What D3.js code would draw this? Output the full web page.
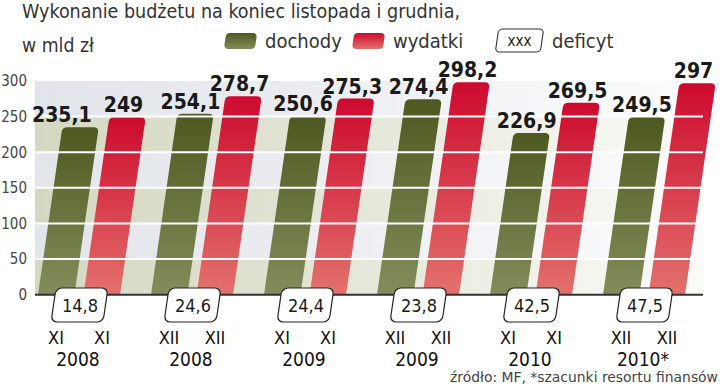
<!DOCTYPE html>
<html>
<head>
<meta charset="utf-8">
<script src="https://cdn.jsdelivr.net/npm/d3@7"></script>
<style>
  body { margin: 0; background: #fff; }
  svg { display: block; }
  text { font-family: "DejaVu Sans Condensed", "DejaVu Sans", sans-serif; }
</style>
</head>
<body>
<div id="chart"></div>
<script>
"use strict";

const months = ["XI", "XII", "XI", "XII", "XI", "XII"];
const years = ["2008", "2008", "2009", "2009", "2010", "2010*"];
const dochody = [235.1, 254.1, 250.6, 274.4, 226.9, 249.5];
const wydatki = [249, 278.7, 275.3, 298.2, 269.5, 297];
const deficyt = [14.8, 24.6, 24.4, 23.8, 42.5, 47.5];
const yTicks = [0, 50, 100, 150, 200, 250, 300];
const series = ["dochody", "wydatki"];

const width = 720, height = 388;
const plot = {left: 35, right: 703, top: 81, bottom: 294.7};
const slant = 0.145;
const skewDeg = -Math.atan(slant) * 180 / Math.PI;
const fmt = (v) => String(v).replace(".", ",");
const fmt1 = (v) => v.toFixed(1).replace(".", ",");

const keys = months.map((m, i) => m + " " + years[i]);

const x = d3.scaleBand()
    .domain(keys)
    .range([23.5, 701.5]);

const xIn = d3.scaleBand()
    .domain(series)
    .range([-42, 40])
    .paddingInner(0.2);

const y = d3.scaleLinear()
    .domain([0, 300])
    .range([plot.bottom, plot.top]);

const svg = d3.select("#chart").append("svg")
    .attr("width", width)
    .attr("height", height);

const defs = svg.append("defs");

function vGrad(id, top, bottom) {
    const g = defs.append("linearGradient")
        .attr("id", id)
        .attr("x1", 0).attr("y1", 0).attr("x2", 0).attr("y2", 1);
    g.append("stop").attr("offset", 0).attr("stop-color", top);
    g.append("stop").attr("offset", 1).attr("stop-color", bottom);
}
vGrad("gGreen", "#4e5920", "#838d5b");
vGrad("gRed", "#cd0a2e", "#e3716c");

const fade = defs.append("linearGradient")
    .attr("id", "fade")
    .attr("gradientUnits", "userSpaceOnUse")
    .attr("x1", plot.left).attr("x2", plot.right).attr("y1", 0).attr("y2", 0);
fade.append("stop").attr("offset", 0).attr("stop-color", "#fff").attr("stop-opacity", 0);
fade.append("stop").attr("offset", 0.35).attr("stop-color", "#fff").attr("stop-opacity", 0.25);
fade.append("stop").attr("offset", 1).attr("stop-color", "#fff").attr("stop-opacity", 0.9);

// background bands
const bands = d3.range(yTicks.length - 1);
svg.append("g").selectAll("rect")
    .data(bands)
    .join("rect")
    .attr("x", plot.left)
    .attr("width", plot.right - plot.left)
    .attr("y", (i) => y(yTicks[i + 1]))
    .attr("height", (i) => y(yTicks[i]) - y(yTicks[i + 1]))
    .attr("fill", (i) => i % 2 === 0 ? "#d5d8c1" : "#e2e5ea");

svg.append("rect")
    .attr("x", plot.left)
    .attr("y", plot.top)
    .attr("width", plot.right - plot.left)
    .attr("height", plot.bottom - plot.top)
    .attr("fill", "url(#fade)");

function skewAt(y0) {
    return "translate(0," + y0 + ") skewX(" + skewDeg + ") translate(0," + (-y0) + ")";
}

function barPath(x0, x1, yt, yb, r) {
    return "M" + x0 + "," + yb +
        "L" + x0 + "," + (yt + r) +
        "Q" + x0 + "," + yt + " " + (x0 + r) + "," + yt +
        "L" + (x1 - r) + "," + yt +
        "Q" + x1 + "," + yt + " " + x1 + "," + (yt + r) +
        "L" + x1 + "," + yb + "Z";
}

const rows = keys.map((k, i) => ({key: k, i, dochody: dochody[i], wydatki: wydatki[i]}));

const bars = svg.append("g").attr("transform", skewAt(plot.bottom));

series.forEach((s) => {
    bars.append("g").selectAll("path")
        .data(rows)
        .join("path")
        .attr("fill", s === "dochody" ? "url(#gGreen)" : "url(#gRed)")
        .attr("d", (d) => {
            const c = x(d.key) + x.bandwidth() / 2 + xIn(s);
            return barPath(c, c + xIn.bandwidth(), y(d[s]), plot.bottom, 5);
        });
});

// grid lines on top of bars
svg.append("g").selectAll("line")
    .data(yTicks.filter((t) => t > 0 && t < 300))
    .join("line")
    .attr("x1", plot.left)
    .attr("x2", plot.right)
    .attr("y1", (d) => y(d))
    .attr("y2", (d) => y(d))
    .attr("stroke", "#fff")
    .attr("stroke-width", 2);

// axis line
svg.append("line")
    .attr("x1", plot.left).attr("x2", plot.right)
    .attr("y1", plot.bottom).attr("y2", plot.bottom)
    .attr("stroke", "#333")
    .attr("stroke-width", 2);

// y axis
const yAxis = svg.append("g")
    .attr("transform", "translate(27,0)")
    .call(d3.axisLeft(y).tickValues(yTicks).tickSize(0).tickPadding(0));
yAxis.select(".domain").remove();
yAxis.selectAll("text")
    .attr("font-family", "DejaVu Sans Condensed")
    .attr("font-size", 15)
    .attr("fill", "#444");

// value labels
const labels = svg.append("g")
    .attr("font-weight", "bold")
    .attr("font-size", 21)
    .attr("fill", "#1a1a1a")
    .attr("text-anchor", "middle");

function topCentre(d, s) {
    const c = x(d.key) + x.bandwidth() / 2 + xIn(s) + xIn.bandwidth() / 2;
    return c + (plot.bottom - y(d[s])) * slant;
}

rows.forEach((d) => {
    const red = labels.append("text")
        .attr("x", topCentre(d, "wydatki") - 4)
        .attr("y", y(d.wydatki) - 5)
        .text(fmt(d.wydatki));
    const green = labels.append("text")
        .attr("x", topCentre(d, "dochody") - 5)
        .attr("y", y(d.dochody) - 5)
        .text(fmt(d.dochody));
    const rw = red.node().getComputedTextLength();
    const gw = green.node().getComputedTextLength();
    const redLeft = +red.attr("x") - rw / 2;
    const greenRight = +green.attr("x") + gw / 2;
    const overlapY = Math.abs(+red.attr("y") - +green.attr("y")) < 16;
    if (overlapY && greenRight > redLeft - 12) {
        green.attr("x", redLeft - 12 - gw / 2);
    }
});

// deficit boxes
const boxes = svg.append("g").attr("transform", skewAt(plot.bottom));
boxes.selectAll("rect")
    .data(rows)
    .join("rect")
    .attr("x", (d) => x(d.key) + x.bandwidth() / 2 - 25)
    .attr("y", 288)
    .attr("width", 52)
    .attr("height", 34)
    .attr("rx", 6)
    .attr("fill", "#fff")
    .attr("stroke", "#222")
    .attr("stroke-width", 1.2);

svg.append("g").selectAll("text")
    .data(rows)
    .join("text")
    .attr("x", (d) => x(d.key) + x.bandwidth() / 2)
    .attr("y", 312)
    .attr("text-anchor", "middle")
    .attr("font-size", 18)
    .attr("fill", "#1a1a1a")
    .text((d) => fmt1(deficyt[d.i]));

// x axis: months and years
const xAxis = svg.append("g")
    .attr("transform", "translate(0," + plot.bottom + ")")
    .call(d3.axisBottom(x).tickSize(0).tickFormat((d, i) => years[i]));
xAxis.select(".domain").remove();
xAxis.selectAll(".tick text")
    .attr("font-family", "DejaVu Sans")
    .attr("font-size", 19)
    .attr("fill", "#111")
    .attr("x", -2)
    .attr("y", 71)
    .attr("dy", 0);

const monthG = svg.append("g")
    .attr("font-family", "DejaVu Sans")
    .attr("font-size", 18)
    .attr("fill", "#111")
    .attr("text-anchor", "middle");
series.forEach((s, j) => {
    monthG.append("g").selectAll("text")
        .data(rows)
        .join("text")
        .attr("x", (d) => x(d.key) + x.bandwidth() / 2 + (j === 0 ? -24 : 22))
        .attr("y", 344)
        .text((d) => months[d.i]);
});

// title
svg.append("text")
    .attr("x", 22).attr("y", 18)
    .attr("font-size", 19.5)
    .attr("fill", "#333")
    .attr("textLength", 438)
    .attr("lengthAdjust", "spacingAndGlyphs")
    .text("Wykonanie budżetu na koniec listopada i grudnia,");
svg.append("text")
    .attr("x", 22).attr("y", 52)
    .attr("font-size", 19.5)
    .attr("fill", "#333")
    .attr("textLength", 72)
    .attr("lengthAdjust", "spacingAndGlyphs")
    .text("w mld zł");

// legend
const legend = svg.append("g").attr("font-size", 20).attr("fill", "#333");
function legendSwatch(x0, fill) {
    legend.append("rect")
        .attr("x", x0).attr("y", 33)
        .attr("width", 31).attr("height", 16)
        .attr("rx", 4)
        .attr("fill", fill)
        .attr("transform", skewAt(41));
}
legendSwatch(225, "url(#gGreen)");
legend.append("text").attr("x", 265).attr("y", 48).text("dochody");
legendSwatch(353, "url(#gRed)");
legend.append("text").attr("x", 393).attr("y", 48).text("wydatki");
legend.append("rect")
    .attr("x", 497).attr("y", 29)
    .attr("width", 45).attr("height", 23)
    .attr("rx", 4)
    .attr("fill", "#fff")
    .attr("stroke", "#333")
    .attr("stroke-width", 1.1)
    .attr("transform", skewAt(40.5));
legend.append("text")
    .attr("x", 519.5).attr("y", 46)
    .attr("font-size", 15)
    .attr("text-anchor", "middle")
    .attr("fill", "#1a1a1a")
    .text("xxx");
legend.append("text").attr("x", 552).attr("y", 48).text("deficyt");

// source
svg.append("text")
    .attr("x", 718).attr("y", 382)
    .attr("text-anchor", "end")
    .attr("font-size", 14.5)
    .attr("fill", "#444")
    .attr("textLength", 268)
    .attr("lengthAdjust", "spacingAndGlyphs")
    .text("źródło: MF, *szacunki resortu finansów");
</script>
</body>
</html>
